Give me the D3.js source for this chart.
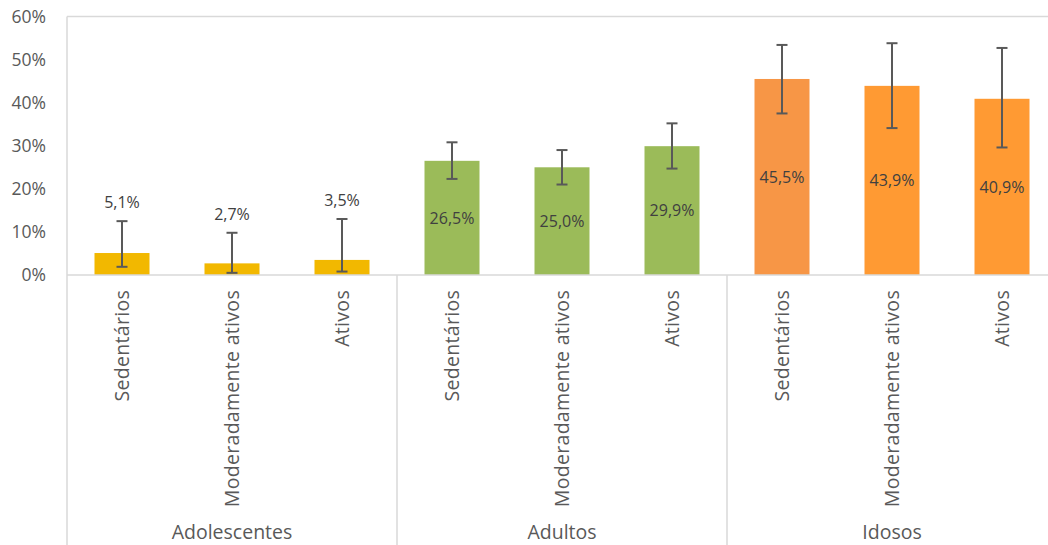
<!DOCTYPE html>
<html>
<head>
<meta charset="utf-8">
<script src="https://cdn.jsdelivr.net/npm/d3@7"></script>
<style>
  html, body { margin: 0; padding: 0; background: #fff; }
  svg { display: block; }
  text { font-family: "Open Sans", sans-serif; }
</style>
</head>
<body>
<svg id="chart" width="1048" height="545"></svg>
<script>
// ---- data ----
const groups = ["Adolescentes", "Adultos", "Idosos"];
const categories = ["Sedentários", "Moderadamente ativos", "Ativos"];
const values = [5.1, 2.7, 3.5, 26.5, 25.0, 29.9, 45.5, 43.9, 40.9];
const errLow = [1.9, 0.5, 0.8, 22.3, 21.0, 24.7, 37.5, 34.1, 29.6];
const errHigh = [12.5, 9.8, 13.0, 30.8, 29.0, 35.2, 53.4, 53.8, 52.7];
const barColors = ["#F2B800", "#F2B800", "#F2B800", "#9BBB59", "#9BBB59", "#9BBB59", "#F79646", "#FF9A33", "#FF9A33"];
const labelsInside = [false, false, false, true, true, true, true, true, true];
const yTicks = [0, 10, 20, 30, 40, 50, 60];

// ---- build rows ----
const rows = values.map((v, i) => ({
  key: groups[Math.floor(i / 3)] + "|" + categories[i % 3],
  group: groups[Math.floor(i / 3)],
  cat: categories[i % 3],
  value: v, lo: errLow[i], hi: errHigh[i], color: barColors[i], inside: labelsInside[i]
}));

const svg = d3.select("#chart");
const pLeft = 67, pRight = 1057, pTop = 16.5, pBottom = 275;

const x = d3.scaleBand().domain(rows.map(d => d.key)).range([pLeft, pRight]).paddingInner(0.5).paddingOuter(0.25);
const xg = d3.scaleBand().domain(groups).range([pLeft, pRight]);
const y = d3.scaleLinear().domain([0, 60]).range([pBottom, pTop]);

const gridColor = "#D9D9D9";

// top line (60%)
svg.append("line").attr("x1", pLeft).attr("x2", pRight).attr("y1", y(60)).attr("y2", y(60))
  .attr("stroke", gridColor).attr("stroke-width", 1.5);
// left axis line
svg.append("line").attr("x1", pLeft).attr("x2", pLeft).attr("y1", y(60)).attr("y2", 545)
  .attr("stroke", gridColor).attr("stroke-width", 1.5);

// y tick labels
svg.selectAll(".ytick").data(yTicks).enter().append("text")
  .attr("x", 46).attr("y", d => y(d)).attr("dy", "0.36em")
  .attr("text-anchor", "end").attr("font-size", 17.5).attr("fill", "#595959")
  .text(d => d + "%");

// bars
svg.selectAll(".bar").data(rows).enter().append("rect")
  .attr("x", d => x(d.key)).attr("width", x.bandwidth())
  .attr("y", d => y(d.value)).attr("height", d => y(0) - y(d.value))
  .attr("fill", d => d.color);

// x axis line
svg.append("line").attr("x1", pLeft).attr("x2", pRight).attr("y1", pBottom).attr("y2", pBottom)
  .attr("stroke", gridColor).attr("stroke-width", 1.5);

// group separators
svg.selectAll(".sep").data(groups.slice(1)).enter().append("line")
  .attr("x1", d => xg(d)).attr("x2", d => xg(d)).attr("y1", pBottom).attr("y2", 545)
  .attr("stroke", gridColor).attr("stroke-width", 1.5);

// error bars
const cap = 5.5;
const eb = svg.selectAll(".eb").data(rows).enter().append("g")
  .attr("stroke", "#595959").attr("stroke-width", 2);
eb.append("line").attr("x1", d => x(d.key) + x.bandwidth() / 2).attr("x2", d => x(d.key) + x.bandwidth() / 2)
  .attr("y1", d => y(d.lo)).attr("y2", d => y(d.hi));
eb.append("line").attr("x1", d => x(d.key) + x.bandwidth() / 2 - cap).attr("x2", d => x(d.key) + x.bandwidth() / 2 + cap)
  .attr("y1", d => y(d.lo)).attr("y2", d => y(d.lo));
eb.append("line").attr("x1", d => x(d.key) + x.bandwidth() / 2 - cap).attr("x2", d => x(d.key) + x.bandwidth() / 2 + cap)
  .attr("y1", d => y(d.hi)).attr("y2", d => y(d.hi));

// data labels
const fmt = v => v.toFixed(1).replace(".", ",") + "%";
svg.selectAll(".dl").data(rows).enter().append("text")
  .attr("x", d => x(d.key) + x.bandwidth() / 2)
  .attr("y", d => d.inside ? (y(d.value) + y(0)) / 2 : y(d.hi) - 19)
  .attr("dy", "0.36em")
  .attr("text-anchor", "middle").attr("font-size", 16).attr("fill", "#404040")
  .text(d => fmt(d.value));

// rotated category labels
svg.selectAll(".cl").data(rows).enter().append("text")
  .attr("transform", d => `translate(${x(d.key) + x.bandwidth() / 2},290) rotate(-90)`)
  .attr("dy", "0.36em")
  .attr("text-anchor", "end").attr("font-size", 19.5).attr("letter-spacing", 0.3).attr("fill", "#595959")
  .text(d => d.cat);

// group labels
svg.selectAll(".gl").data(groups).enter().append("text")
  .attr("x", d => xg(d) + xg.bandwidth() / 2).attr("y", 539)
  .attr("text-anchor", "middle").attr("font-size", 19.5).attr("fill", "#595959")
  .text(d => d);
</script>
</body>
</html>
